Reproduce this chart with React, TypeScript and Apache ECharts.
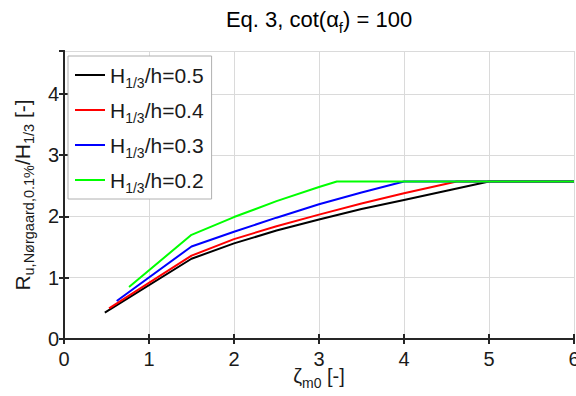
import React, { useEffect, useRef } from "react";
import * as echarts from "echarts";

const seriesNames = ["H1/3/h=0.5", "H1/3/h=0.4", "H1/3/h=0.3", "H1/3/h=0.2"];
const legendValues = ["0.5", "0.4", "0.3", "0.2"];
const seriesColors = ["#000000", "#ff0000", "#0000ff", "#00ff00"];

const blackX = [0.48, 1.5, 2.0, 2.5, 3.0, 3.5, 4.0, 4.5, 5.0, 6.0];
const blackY = [0.43, 1.31, 1.56, 1.77, 1.95, 2.12, 2.27, 2.42, 2.57, 2.57];
const redX = [0.53, 1.5, 2.0, 2.5, 3.0, 3.5, 4.0, 4.62, 6.0];
const redY = [0.5, 1.36, 1.63, 1.84, 2.03, 2.21, 2.38, 2.57, 2.57];
const blueX = [0.62, 1.5, 2.0, 2.5, 3.0, 3.5, 4.0, 6.0];
const blueY = [0.62, 1.51, 1.75, 1.98, 2.2, 2.39, 2.57, 2.57];
const greenX = [0.765, 1.5, 2.0, 2.5, 3.0, 3.21, 6.0];
const greenY = [0.85, 1.7, 1.99, 2.25, 2.48, 2.57, 2.57];

const xTicks = [0, 1, 2, 3, 4, 5, 6];
const yTicks = [0, 1, 2, 3, 4];

const FONT = "'Liberation Sans', Arial, Helvetica, sans-serif";
const TXT = "#1a1a1a";

const zip = (xs: number[], ys: number[]) => xs.map((x, i) => [x, ys[i]]);

const makeRich = (main: number, sub: number, drop: number) => ({
  m: { fontSize: main, lineHeight: 22, verticalAlign: "middle", fontFamily: FONT, color: TXT },
  s: {
    fontSize: sub,
    lineHeight: 22,
    verticalAlign: "middle",
    padding: [drop * 2, 0, 0, 0],
    fontFamily: FONT,
    color: TXT,
  },
});

export default function App() {
  const ref = useRef<HTMLDivElement>(null);
  useEffect(() => {
    if (!ref.current) return;
    const chart = echarts.init(ref.current, null, { renderer: "svg" });
    const xsAll = [blackX, redX, blueX, greenX];
    const ysAll = [blackY, redY, blueY, greenY];
    const axisLine = { show: true, lineStyle: { color: "#262626", width: 2 } };
    const tick = { show: true, inside: true, length: 5, lineStyle: { color: "#262626", width: 2 } };
    const tickLabel = { fontSize: 20, fontFamily: FONT, color: TXT };
    chart.setOption({
      animation: false,
      backgroundColor: "#ffffff",
      grid: { left: 64, right: 2, top: 51, bottom: 57, containLabel: false, outerBoundsMode: "none" },
      graphic: [
        {
          type: "text",
          x: 319,
          y: 19,
          style: {
            text: "{m|Eq. 3, cot(α}{s|f}{m|) = 100}",
            align: "center",
            verticalAlign: "middle",
            rich: makeRich(22, 15, 8),
          },
        },
      ],
      legend: {
        orient: "vertical",
        left: 68,
        top: 56,
        padding: [4, 8, 4, 7],
        itemGap: 5,
        itemWidth: 30,
        itemHeight: 2,
        icon: "rect",
        borderColor: "#b0b0b0",
        borderWidth: 1,
        borderRadius: 0,
        backgroundColor: "#ffffff",
        data: seriesNames,
        formatter: (name: string) => {
          const i = seriesNames.indexOf(name);
          return "{m|H}{s|1/3}{m|/h=" + legendValues[i] + "}";
        },
        textStyle: { rich: makeRich(21, 14, 8) },
      },
      xAxis: [
        {
          type: "value",
          min: 0,
          max: 6,
          interval: 1,
          axisLine,
          axisTick: tick,
          axisLabel: {
            margin: 10,
            ...tickLabel,
            formatter: (v: number) => (xTicks.includes(v) ? String(v) : ""),
          },
          splitLine: { show: true, lineStyle: { color: "#dadada", width: 1 } },
          name: "{m|ζ}{s|m0}{m| [-]}",
          nameLocation: "middle",
          nameGap: 26,
          nameMoveOverlap: false,
          nameTextStyle: { rich: makeRich(20, 14, 7) },
        },
        {
          type: "value",
          position: "top",
          min: 0,
          max: 6,
          interval: 1,
          axisLine,
          axisTick: tick,
          axisLabel: { show: false },
          splitLine: { show: false },
        },
      ],
      yAxis: [
        {
          type: "value",
          min: 0,
          max: 4.7,
          interval: 1,
          axisLine,
          axisTick: tick,
          axisLabel: {
            margin: 5,
            ...tickLabel,
            showMaxLabel: false,
            formatter: (v: number) => (yTicks.includes(v) ? String(v) : ""),
          },
          splitLine: { show: true, lineStyle: { color: "#dadada", width: 1 } },
          name: "{m|R}{s|u,Nørgaard,0.1%}{m|/H}{s|1/3}{m| [-]}",
          nameLocation: "middle",
          nameRotate: 90,
          nameGap: 30,
          nameTextStyle: { rich: makeRich(21, 14.5, 7) },
        },
        {
          type: "value",
          position: "right",
          min: 0,
          max: 4.7,
          interval: 1,
          axisLine,
          axisTick: tick,
          axisLabel: { show: false },
          splitLine: { show: false },
        },
      ],
      series: seriesNames.map((name, i) => ({
        name,
        type: "line",
        showSymbol: false,
        symbol: "none",
        data: zip(xsAll[i], ysAll[i]),
        lineStyle: { color: seriesColors[i], width: 2 },
        itemStyle: { color: seriesColors[i] },
        z: 2 + i,
      })),
    });
    return () => chart.dispose();
  }, []);
  return <div ref={ref} style={{ width: 576, height: 396, position: "absolute", left: 0, top: 0 }} />;
}
